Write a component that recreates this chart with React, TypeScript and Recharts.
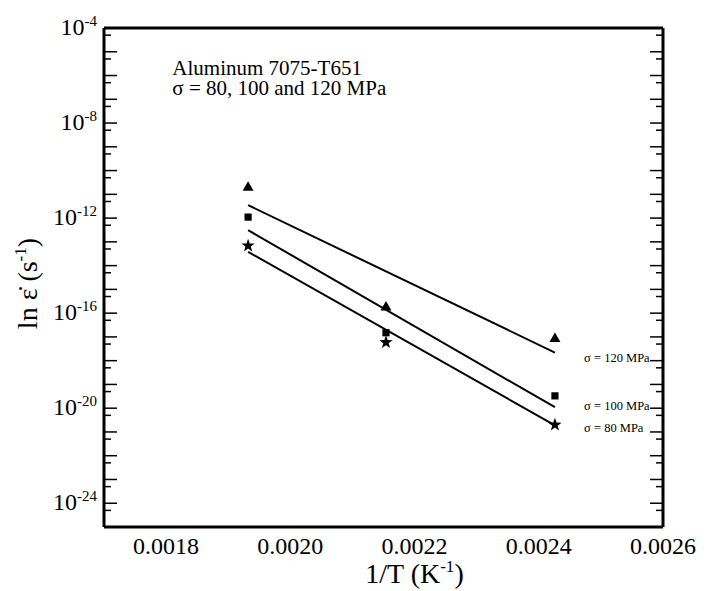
import React from "react"
import { ComposedChart, Scatter, XAxis, YAxis, ReferenceDot } from "recharts"

// 1/T (K^-1) of the three test temperatures
const invT = [0.001932, 0.002154, 0.002426]
const rate120 = [2.2e-11, 2.0e-16, 9.5e-18]
const rate100 = [1.1e-12, 1.5e-17, 3.3e-20]
const rate80 = [7.2e-14, 6.2e-18, 2.1e-21]

// fitted lines, end points
const fitT = [0.001932, 0.002426]
const fit120 = [3.5e-12, 2.2e-18]
const fit100 = [3.1e-13, 1.1e-20]
const fit80 = [3.8e-14, 1.9e-21]

const xLabelTicks = [0.0018, 0.002, 0.0022, 0.0024, 0.0026]
const xMajorTicks = [0.0018, 0.002, 0.0022, 0.0024]
const xMinorTicks = [
  0.00175, 0.00185, 0.0019, 0.00195, 0.00205, 0.0021, 0.00215,
  0.00225, 0.0023, 0.00235, 0.00245, 0.0025, 0.00255,
]
const yLabelTicks = [1e-24, 1e-20, 1e-16, 1e-12, 1e-8, 1e-4]
const yMajorTicks = [
  1e-24, 1e-23, 1e-22, 1e-21, 1e-20, 1e-19, 1e-18, 1e-17, 1e-16, 1e-15,
  1e-14, 1e-13, 1e-12, 1e-11, 1e-10, 1e-9, 1e-8, 1e-7, 1e-6, 1e-5,
]
const yMinorTicks = [
  5e-25, 5e-24, 5e-23, 5e-22, 5e-21, 5e-20, 5e-19, 5e-18, 5e-17, 5e-16,
  5e-15, 5e-14, 5e-13, 5e-12, 5e-11, 5e-10, 5e-9, 5e-8, 5e-7, 5e-6, 5e-5,
]

const serif = '"Liberation Serif", "Times New Roman", serif'
const ink = "#000"
const xDomain = [0.0017, 0.0026]
const yDomain = [1e-25, 1e-4]

const pts = (xs: number[], ys: number[]) => xs.map((x, i) => ({ x, y: ys[i] }))

const Triangle = ({ cx, cy }: any) => (
  <polygon points={`${cx},${cy - 5} ${cx - 5.5},${cy + 4.5} ${cx + 5.5},${cy + 4.5}`} fill={ink} />
)
const Square = ({ cx, cy }: any) => <rect x={cx - 3.6} y={cy - 3.6} width={7.2} height={7.2} fill={ink} />
const Star = ({ cx, cy }: any) => {
  const p: string[] = []
  for (let i = 0; i < 10; i++) {
    const r = i % 2 === 0 ? 7 : 2.8
    const a = -Math.PI / 2 + (i * Math.PI) / 5
    p.push(`${cx + r * Math.cos(a)},${cy + 0.5 + r * Math.sin(a)}`)
  }
  return <polygon points={p.join(" ")} fill={ink} />
}
const NoDot = () => <g />

// inward tick marks, long on majors, short on minors
const majors = new Set<number>([...xMajorTicks, ...yMajorTicks])
const inTick = (dx: number, dy: number) => ({ x, y, payload }: any) => {
  const len = majors.has(payload.value) ? 13 : 7
  return <line x1={x} y1={y} x2={x + dx * len} y2={y + dy * len} stroke={ink} strokeWidth={1.5} />
}

const PowTick = ({ x, y, payload }: any) => {
  const exp = Math.round(Math.log10(payload.value))
  return (
    <text x={x} y={y} textAnchor="end" fontFamily={serif} fill={ink}>
      <tspan fontSize={24} dy={7}>10</tspan>
      <tspan fontSize={15} dy={-9}>{exp}</tspan>
    </text>
  )
}

const XTitle = ({ viewBox }: any) => (
  <text x={viewBox.x + viewBox.width / 2 + 31} y={viewBox.y + 56} textAnchor="middle" fontFamily={serif} fontSize={28} fill={ink}>
    1/T (K<tspan fontSize={17} dy={-11}>-1</tspan>
    <tspan dy={11}>)</tspan>
  </text>
)

const YTitle = ({ viewBox }: any) => {
  const x = viewBox.x - 7
  const y = viewBox.y + viewBox.height / 2 + 6
  return (
    <text x={x} y={y} transform={`rotate(-90, ${x}, ${y})`} textAnchor="middle" fontFamily={serif} fontSize={28} fill={ink}>
      ln ε̇ (s<tspan fontSize={17} dy={-11}>-1</tspan>
      <tspan dy={11}>)</tspan>
    </text>
  )
}

const note = (lines: string[], size: number) => (p: any) => (
  <text x={p.cx} y={p.cy} fontFamily={serif} fontSize={size} fill={ink}>
    {lines.map((l, i) => (
      <tspan key={i} x={p.cx} dy={i === 0 ? 0 : 20}>{l}</tspan>
    ))}
  </text>
)

const frame = { stroke: ink, strokeWidth: 3 }

export default function App() {
  return (
    <div style={{ padding: "8px 0 0 8px" }}>
      <style>{`body{margin:0}`}</style>
      <ComposedChart width={717} height={583} margin={{ top: 20, right: 62, left: 36, bottom: 4 }}>
        <XAxis
          xAxisId="x"
          dataKey="x"
          type="number"
          domain={xDomain}
          allowDataOverflow
          ticks={xLabelTicks}
          interval={0}
          tickFormatter={(v: number) => v.toFixed(4)}
          tickLine={false}
          tickSize={0}
          tickMargin={10}
          axisLine={frame}
          height={60}
          tick={{ fill: ink, fontSize: 24, fontFamily: serif }}
          label={XTitle}
        />
        <XAxis xAxisId="b" type="number" domain={xDomain} allowDataOverflow mirror height={1} ticks={[...xMajorTicks, ...xMinorTicks]} interval={0} tick={inTick(0, -1)} tickSize={0} tickMargin={0} tickLine={false} axisLine={false} />
        <XAxis xAxisId="t" orientation="top" type="number" domain={xDomain} allowDataOverflow mirror height={1} ticks={[...xMajorTicks, ...xMinorTicks]} interval={0} tick={inTick(0, 1)} tickSize={0} tickMargin={0} tickLine={false} axisLine={frame} />

        <YAxis
          yAxisId="y"
          dataKey="y"
          type="number"
          scale="log"
          domain={yDomain}
          allowDataOverflow
          ticks={yLabelTicks}
          interval={0}
          tick={PowTick}
          tickLine={false}
          tickSize={0}
          tickMargin={7}
          axisLine={frame}
          width={60}
          label={YTitle}
        />
        <YAxis yAxisId="l" type="number" scale="log" domain={yDomain} allowDataOverflow mirror width={1} ticks={[...yMajorTicks, ...yMinorTicks]} interval={0} tick={inTick(1, 0)} tickSize={0} tickMargin={0} tickLine={false} axisLine={false} />
        <YAxis yAxisId="r" orientation="right" type="number" scale="log" domain={yDomain} allowDataOverflow mirror width={1} ticks={[...yMajorTicks, ...yMinorTicks]} interval={0} tick={inTick(-1, 0)} tickSize={0} tickMargin={0} tickLine={false} axisLine={frame} />

        <Scatter xAxisId="x" yAxisId="y" data={pts(fitT, fit120)} line={{ stroke: ink, strokeWidth: 2 }} shape={NoDot} isAnimationActive={false} />
        <Scatter xAxisId="x" yAxisId="y" data={pts(fitT, fit100)} line={{ stroke: ink, strokeWidth: 2 }} shape={NoDot} isAnimationActive={false} />
        <Scatter xAxisId="x" yAxisId="y" data={pts(fitT, fit80)} line={{ stroke: ink, strokeWidth: 2 }} shape={NoDot} isAnimationActive={false} />

        <Scatter xAxisId="x" yAxisId="y" data={pts(invT, rate120)} shape={Triangle} isAnimationActive={false} />
        <Scatter xAxisId="x" yAxisId="y" data={pts(invT, rate100)} shape={Square} isAnimationActive={false} />
        <Scatter xAxisId="x" yAxisId="y" data={pts(invT, rate80)} shape={Star} isAnimationActive={false} />

        <ReferenceDot xAxisId="x" yAxisId="y" x={0.00181} y={1.1e-6} r={0} shape={note(["Aluminum 7075-T651", "σ = 80, 100 and 120 MPa"], 21)} />
        <ReferenceDot xAxisId="x" yAxisId="y" x={0.002473} y={8.9e-19} r={0} shape={note(["σ = 120 MPa"], 12.5)} />
        <ReferenceDot xAxisId="x" yAxisId="y" x={0.002473} y={8.3e-21} r={0} shape={note(["σ = 100 MPa"], 12.5)} />
        <ReferenceDot xAxisId="x" yAxisId="y" x={0.002473} y={1e-21} r={0} shape={note(["σ = 80 MPa"], 12.5)} />
      </ComposedChart>
    </div>
  )
}
